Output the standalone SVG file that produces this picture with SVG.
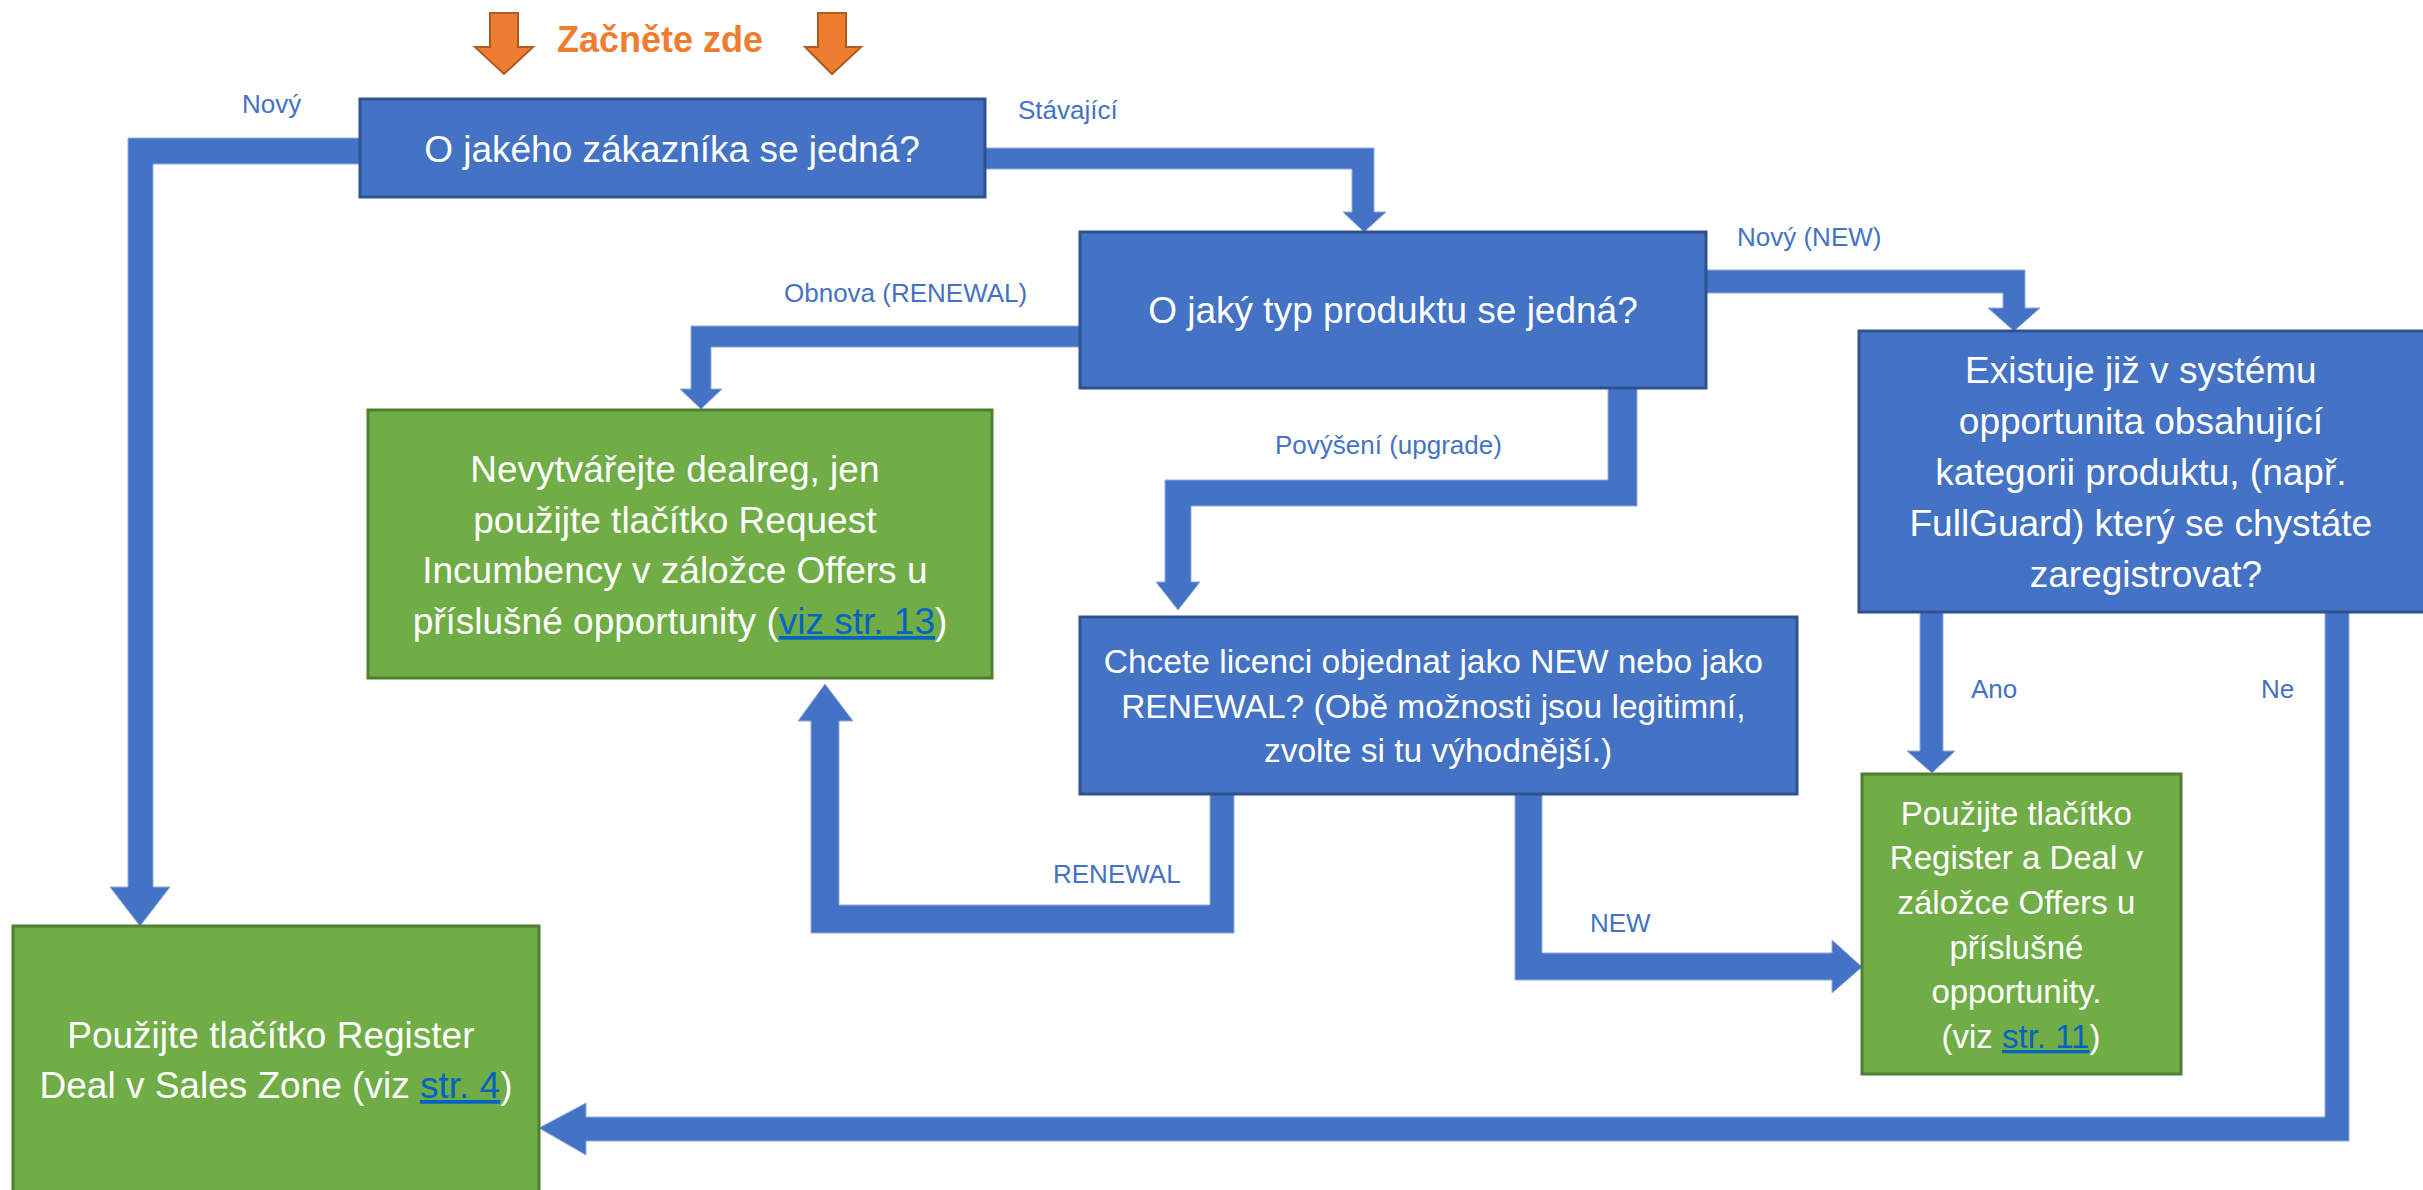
<svg xmlns="http://www.w3.org/2000/svg" width="2423" height="1190" viewBox="0 0 2423 1190">
<style>
.bg{fill:#FFFFFF}
.conn{fill:#4472C4;stroke:#8FAADC;stroke-width:1}
.start{fill:#ED7D31;stroke:#AE5A21;stroke-width:2}
.blue{fill:#4472C4;stroke:#2F528F;stroke-width:3}
.green{fill:#70AD47;stroke:#507E32;stroke-width:3}
.t{font-family:"Liberation Sans",Arial,sans-serif;fill:#FFFFFF;text-anchor:middle}
.lbl{font-family:"Liberation Sans",Arial,sans-serif;fill:#4472C4;font-size:26px}
.title{font-family:"Liberation Sans",Arial,sans-serif;fill:#ED7D31;font-size:36px;font-weight:bold}
.link{fill:#0563C1;text-decoration:underline}
</style>
<rect class="bg" x="0" y="0" width="2423" height="1190"/>

<g id="start">
  <polygon class="start" points="490,13 518,13 518,47 533,47 504,74 475,47 490,47"/>
  <polygon class="start" points="818,13 846,13 846,47 861,47 832,74 805,47 818,47"/>
  <text class="title" x="557" y="52">Začněte zde</text>
</g>

<g id="connectors">
  <polygon class="conn" points="360,138 128,138 128,887 110,887 140,926 170,887 153,887 153,164 360,164"/>
  <polygon class="conn" points="985,148 1374,148 1374,212 1386,212 1364,232 1343,212 1352,212 1352,169 985,169"/>
  <polygon class="conn" points="1080,326 691,326 691,389 680,389 701,409 722,389 711,389 711,347 1080,347"/>
  <polygon class="conn" points="1706,270 2025,270 2025,308 2040,308 2014,331 1988,308 2003,308 2003,293 1706,293"/>
  <polygon class="conn" points="1608,388 1637,388 1637,506 1191,506 1191,582 1200,582 1178,610 1156,582 1165,582 1165,480 1608,480"/>
  <polygon class="conn" points="1210,794 1234,794 1234,933 811,933 811,721 798,721 825,684 853,721 839,721 839,905 1210,905"/>
  <polygon class="conn" points="1515,794 1542,794 1542,953 1832,953 1832,940 1862,967 1832,993 1832,980 1515,980"/>
  <polygon class="conn" points="1920,612 1943,612 1943,751 1955,751 1932,773 1907,751 1920,751"/>
  <polygon class="conn" points="2325,612 2349,612 2349,1141 586,1141 586,1155 539,1128 586,1103 586,1117 2325,1117"/>
  <text class="lbl" x="242" y="113">Nový</text>
  <text class="lbl" x="1018" y="119">Stávající</text>
  <text class="lbl" x="784" y="302">Obnova (RENEWAL)</text>
  <text class="lbl" x="1737" y="246">Nový (NEW)</text>
  <text class="lbl" x="1275" y="454">Povýšení (upgrade)</text>
  <text class="lbl" x="1971" y="698">Ano</text>
  <text class="lbl" x="2261" y="698">Ne</text>
  <text class="lbl" x="1053" y="883">RENEWAL</text>
  <text class="lbl" x="1590" y="932">NEW</text>
</g>

<g id="q-customer">
  <rect class="blue" x="360" y="99" width="625" height="98"/>
  <text class="t" font-size="37" x="672" y="162">O jakého zákazníka se jedná?</text>
</g>

<g id="q-product">
  <rect class="blue" x="1080" y="232" width="626" height="156"/>
  <text class="t" font-size="37" x="1393" y="323">O jaký typ produktu se jedná?</text>
</g>

<g id="q-existing">
  <rect class="blue" x="1859" y="331" width="580" height="281"/>
  <text class="t" font-size="37" x="2146">
    <tspan x="2146" y="383">Existuje již v systému</tspan>
    <tspan x="2146" y="434">opportunita obsahující</tspan>
    <tspan x="2146" y="485">kategorii produktu, (např.</tspan>
    <tspan x="2146" y="536">FullGuard) který se chystáte</tspan>
    <tspan x="2146" y="587">zaregistrovat?</tspan>
  </text>
</g>

<g id="q-license">
  <rect class="blue" x="1080" y="617" width="717" height="177"/>
  <text class="t" font-size="33.5" x="1438">
    <tspan x="1438" y="673">Chcete licenci objednat jako NEW nebo jako</tspan>
    <tspan x="1438" y="718">RENEWAL? (Obě možnosti jsou legitimní,</tspan>
    <tspan x="1438" y="762">zvolte si tu výhodnější.)</tspan>
  </text>
</g>

<g id="a-incumbency">
  <rect class="green" x="368" y="410" width="624" height="268"/>
  <text class="t" font-size="37" x="680">
    <tspan x="680" y="482">Nevytvářejte dealreg, jen</tspan>
    <tspan x="680" y="533">použijte tlačítko Request</tspan>
    <tspan x="680" y="583">Incumbency v záložce Offers u</tspan>
    <tspan x="680" y="634">příslušné opportunity (<tspan class="link">viz str. 13</tspan>)</tspan>
  </text>
</g>

<g id="a-register-offers">
  <rect class="green" x="1862" y="774" width="319" height="300"/>
  <text class="t" font-size="33" x="2021">
    <tspan x="2021" y="825">Použijte tlačítko</tspan>
    <tspan x="2021" y="869">Register a Deal v</tspan>
    <tspan x="2021" y="914">záložce Offers u</tspan>
    <tspan x="2021" y="959">příslušné</tspan>
    <tspan x="2021" y="1003">opportunity.</tspan>
    <tspan x="2021" y="1048">(viz <tspan class="link">str. 11</tspan>)</tspan>
  </text>
</g>

<g id="a-register-sales">
  <rect class="green" x="13" y="926" width="526" height="275"/>
  <text class="t" font-size="37" x="276">
    <tspan x="276" y="1048">Použijte tlačítko Register</tspan>
    <tspan x="276" y="1098">Deal v Sales Zone (viz <tspan class="link">str. 4</tspan>)</tspan>
  </text>
</g>
</svg>
